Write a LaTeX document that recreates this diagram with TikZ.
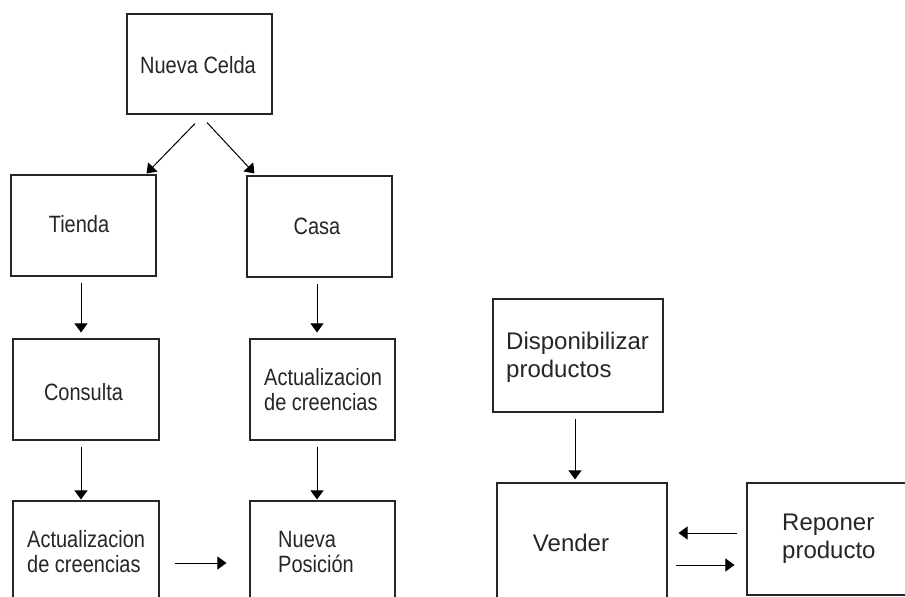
\documentclass[tikz,border=0pt]{standalone}
\usepackage{fontspec}
\setmainfont{Liberation Sans}
\usetikzlibrary{arrows.meta,calc}
\newcommand\vstretch[1]{\scalebox{1}[1.18]{\begin{tabular}{@{}l@{}}#1\end{tabular}}}
\tikzset{
  box/.style={draw=black!85, line width=1.1pt, rectangle, inner sep=0pt},
  lbl/.style={inner sep=0pt, text=black!85, font=\fontsize{20}{21.2}\selectfont, align=left},
  lblbig/.style={inner sep=0pt, text=black!85, font=\fontsize{24}{28}\selectfont, align=left},
  arr/.style={line width=1pt, -{Triangle[length=9pt,width=13pt]}}
}
\begin{document}
\begin{tikzpicture}[x=1pt,y=-1pt]
\useasboundingbox (0,0) rectangle (905,597);
\clip (0,0) rectangle (905,597);
\fill[white] (0,0) rectangle (905,597);
% boxes
\node[box, minimum width=145pt, minimum height=100pt] (nc) at (199.5,64) {};
\node[box, minimum width=145pt, minimum height=101pt] (tienda) at (83.5,225.5) {};
\node[box, minimum width=145pt, minimum height=101pt] (casa) at (319.5,226.5) {};
\node[box, minimum width=146pt, minimum height=101pt] (consulta) at (86,389.5) {};
\node[box, minimum width=145pt, minimum height=101pt] (actB) at (322.5,389.5) {};
\node[box, minimum width=146pt, minimum height=110pt] (actA) at (86,556) {};
\node[box, minimum width=145pt, minimum height=110pt] (npos) at (322.5,556) {};
\node[box, minimum width=170pt, minimum height=113pt] (disp) at (578,355.5) {};
\node[box, minimum width=170pt, minimum height=125pt] (vender) at (582,545.5) {};
\node[box, minimum width=180pt, minimum height=112pt] (reponer) at (837,539) {};
% texts
\node[lbl] (tnc) at (198,68.5) {\vstretch{Nueva Celda}};
\node[lbl] (ttienda) at (79,227.5) {\vstretch{Tienda}};
\node[lbl] (tcasa) at (317,229.5) {\vstretch{Casa}};
\node[lbl] (tconsulta) at (83.5,395.5) {\vstretch{Consulta}};
\node[lbl, anchor=west] (tactB) at (264,393) {\vstretch{Actualizacion\\de creencias}};
\node[lbl, anchor=west] (tactA) at (27,555) {\vstretch{Actualizacion\\de creencias}};
\node[lbl, anchor=west] (tnpos) at (278,555) {\vstretch{Nueva\\Posición}};
\node[lblbig, anchor=west] (tdisp) at (506,357) {Disponibilizar\\productos};
\node[lblbig] (tvender) at (571,543) {Vender};
\node[lblbig, anchor=west] (trep) at (782,538.5) {Reponer\\producto};
% connectors
\draw[arr] ($(nc.south)+(-4.5,9)$) -- ($(tienda.north east)+(-10,-1)$);
\draw[arr] ($(nc.south)+(7.5,8)$) -- ($(casa.north west)+(8,-2)$);
\draw[arr] ($(tienda.south)+(-2.5,6)$) -- ($(consulta.north)+(-5,-6)$);
\draw[arr] ($(casa.south)+(-2.5,6)$) -- ($(actB.north)+(-5.5,-6)$);
\draw[arr] ($(consulta.south)+(-5,6)$) -- ($(actA.north)+(-5,-1)$);
\draw[arr] ($(actB.south)+(-5.5,6)$) -- ($(npos.north)+(-5.5,-1)$);
\draw[arr] ($(actA.east)+(15,7)$) -- ($(npos.west)+(-23,7)$);
\draw[arr] ($(disp.south)+(-3,6)$) -- ($(vender.north)+(-7,-3)$);
\draw[arr] ($(reponer.west)+(-9,-6)$) -- ($(vender.east)+(11,-12.5)$);
\draw[arr] ($(vender.east)+(8,19.5)$) -- ($(reponer.west)+(-12,26)$);
\end{tikzpicture}
\end{document}
